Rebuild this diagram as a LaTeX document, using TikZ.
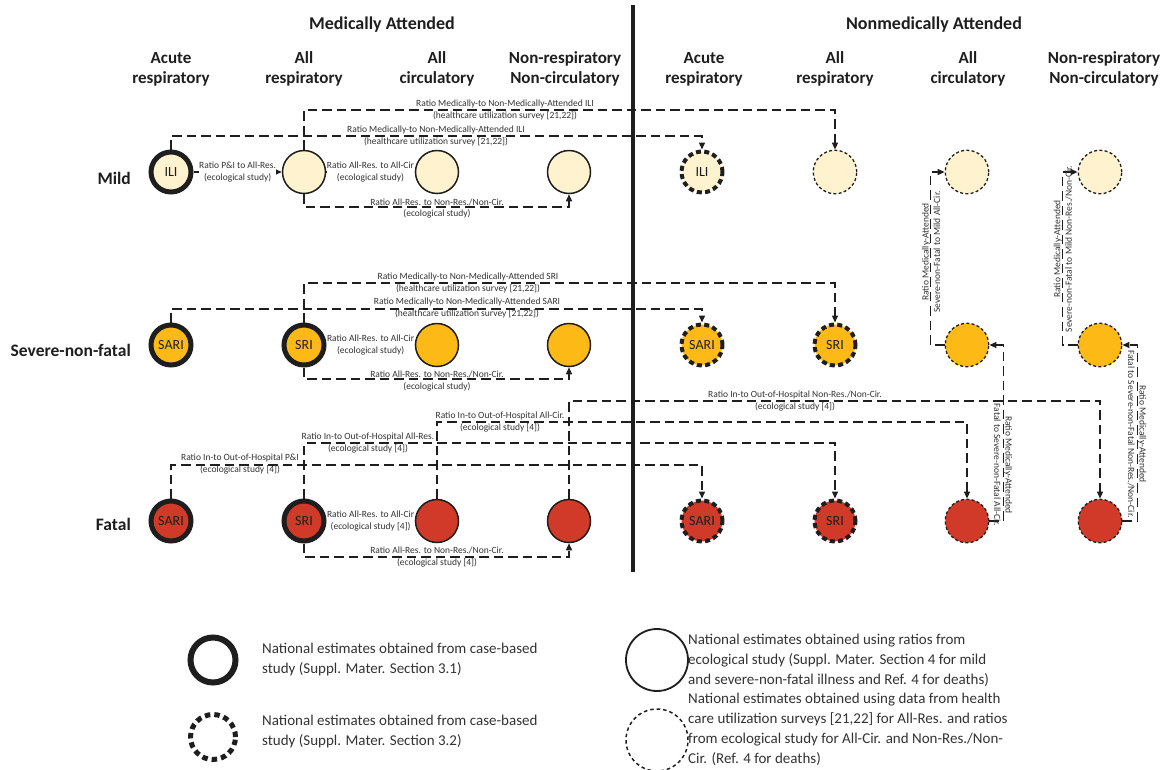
\documentclass[tikz,border=0pt]{standalone}
\usepackage{fontspec}
\setmainfont{Carlito}
\usetikzlibrary{arrows.meta}
\definecolor{mildc}{HTML}{FEF3CE}
\definecolor{sevc}{HTML}{FDBA16}
\definecolor{fatc}{HTML}{D13A28}
\definecolor{ink}{HTML}{1E1E1E}
\definecolor{labink}{HTML}{333333}
\begin{document}
\begin{tikzpicture}[x=1pt,y=-1pt,
  every node/.style={inner sep=0pt},
  ttl/.style={font=\fontsize{18}{20}\bfseries\selectfont, text=ink},
  hdr/.style={font=\fontsize{17}{20}\bfseries\selectfont, align=center, text=ink},
  rowlab/.style={font=\fontsize{17.5}{20}\bfseries\selectfont, anchor=east, text=ink},
  circtxt/.style={font=\fontsize{14}{16}\selectfont, text=ink},
  cA/.style={circle, draw=ink, line width=5pt, minimum size=40pt, circtxt},
  cB/.style={circle, draw=ink, line width=1.5pt, minimum size=43pt},
  cC/.style={circle, draw=ink, line width=4pt, minimum size=41pt, dash pattern=on 5pt off 3.3pt, circtxt},
  cD/.style={circle, draw=ink, line width=1.3pt, minimum size=43.5pt, dash pattern=on 3pt off 2.3pt},
  mf/.style={fill=mildc}, sf/.style={fill=sevc}, ff/.style={fill=fatc},
  conn/.style={draw=ink, line width=1.4pt, dash pattern=on 9.5pt off 5pt, -{Triangle[length=7pt,width=6pt]}},
  lab/.style={font=\fontsize{9.5}{11.5}\selectfont, align=center, text=labink},
  labw/.style={lab, fill=white},
  legtxt/.style={font=\fontsize{15}{20}\selectfont, align=left, anchor=west, text=labink}
]
\useasboundingbox (0,0) rectangle (1170,769);

% titles and headers
\node[ttl] (tma) at (382,25) {Medically Attended};
\node[ttl] (tnm) at (934,25) {Nonmedically Attended};
\node[hdr] (h1) at (171,69) {Acute\\respiratory};
\node[hdr] (h2) at (304,69) {All\\respiratory};
\node[hdr] (h3) at (437,69) {All\\circulatory};
\node[hdr] (h4) at (565,69) {Non-respiratory\\Non-circulatory};
\node[hdr] (h5) at (704,69) {Acute\\respiratory};
\node[hdr] (h6) at (835,69) {All\\respiratory};
\node[hdr] (h7) at (968,69) {All\\circulatory};
\node[hdr] (h8) at (1104,69) {Non-respiratory\\Non-circulatory};

\node[rowlab] (rl1) at (131,178) {Mild};
\node[rowlab] (rl2) at (131,350) {Severe-non-fatal};
\node[rowlab] (rl3) at (131,524) {Fatal};

% circles: mild
\node[cA,mf] (m1) at (171,172) {ILI};
\node[cB,mf] (m2) at (304,172) {};
\node[cB,mf] (m3) at (437,172) {};
\node[cB,mf] (m4) at (569,172) {};
\node[cC,mf] (n1) at (702,172) {ILI};
\node[cD,mf] (n2) at (835,172) {};
\node[cD,mf] (n3) at (967,172) {};
\node[cD,mf] (n4) at (1100,172) {};
% severe
\node[cA,sf] (s1) at (171,345) {SARI};
\node[cA,sf] (s2) at (304,345) {SRI};
\node[cB,sf] (s3) at (437,345) {};
\node[cB,sf] (s4) at (569,345) {};
\node[cC,sf] (t1) at (702,345) {SARI};
\node[cC,sf] (t2) at (835,345) {SRI};
\node[cD,sf] (t3) at (967,345) {};
\node[cD,sf] (t4) at (1100,345) {};
% fatal
\node[cA,ff] (f1) at (171,521) {SARI};
\node[cA,ff] (f2) at (304,521) {SRI};
\node[cB,ff] (f3) at (437,521) {};
\node[cB,ff] (f4) at (569,521) {};
\node[cC,ff] (g1) at (702,521) {SARI};
\node[cC,ff] (g2) at (835,521) {SRI};
\node[cD,ff] (g3) at (967,521) {};
\node[cD,ff] (g4) at (1100,521) {};

% mild connectors
\draw[conn] (m1) -- node[labw] (lm1) {Ratio P\&I to All-Res.\\(ecological study)} (m2);
\draw[conn] (m2) -- node[labw] (lm2) {Ratio All-Res. to All-Cir\\(ecological study)} (m3);
\draw[conn] (m2.south) -- ++(0,12.75) -| (m4.south);
\node[lab] (lm3) at (437,208.5) {Ratio All-Res. to Non-Res./Non-Cir.\\(ecological study)};
\draw[conn] (m2.north) -- ++(0,-39.75) -| (n2.north);
\node[lab] (lm4) at (505,110) {Ratio Medically-to Non-Medically-Attended ILI\\(healthcare utilization survey [21,22])};
\draw[conn] (m1.north) -- ++(0,-13.5) -| (n1.north);
\node[lab] (lm5) at (436,136) {Ratio Medically-to Non-Medically-Attended ILI\\(healthcare utilization survey [21,22])};

% severe connectors
\draw[conn] (s2.north) -- ++(0,-39.5) -| (t2.north);
\node[lab] (ls1) at (468,283) {Ratio Medically-to Non-Medically-Attended SRI\\(healthcare utilization survey [21,22])};
\draw[conn] (s1.north) -- ++(0,-13.5) -| (t1.north);
\node[lab] (ls2) at (467,308) {Ratio Medically-to Non-Medically-Attended SARI\\(healthcare utilization survey [21,22])};
\draw[conn] (s2) -- node[labw] (ls3) {Ratio All-Res. to All-Cir\\(ecological study)} (s3);
\draw[conn] (s2.south) -- ++(0,11.5) -| (s4.south);
\node[lab] (ls4) at (437,381) {Ratio All-Res. to Non-Res./Non-Cir.\\(ecological study)};

% fatal connectors
\draw[conn] (f1.north) -- ++(0,-33.5) -| (g1.north);
\node[lab] (lf1) at (240,464) {Ratio In-to Out-of-Hospital P\&I\\(ecological study [4])};
\draw[conn] (f2.north) -- ++(0,-55.5) -| (g2.north);
\node[lab] (lf2) at (368,443) {Ratio In-to Out-of-Hospital All-Res.\\(ecological study [4])};
\draw[conn] (f3.north) -- ++(0,-76.75) -| (g3.north);
\node[lab] (lf3) at (500,422) {Ratio In-to Out-of-Hospital All-Cir.\\(ecological study [4])};
\draw[conn] (f4.north) -- ++(0,-97.75) -| (g4.north);
\node[lab] (lf4) at (795,401) {Ratio In-to Out-of-Hospital Non-Res./Non-Cir.\\(ecological study [4])};
\draw[conn] (f2) -- node[labw] (lf5) {Ratio All-Res. to All-Cir\\(ecological study [4])} (f3);
\draw[conn] (f2.south) -- ++(0,13.5) -| (f4.south);
\node[lab] (lf6) at (437,557) {Ratio All-Res. to Non-Res./Non-Cir.\\(ecological study [4])};

% right-hand vertical connectors
\draw[conn] (t3.west) -- ++(-14,0) |- (n3.west);
\node[lab, rotate=90] (lr1) at (931,252) {Ratio Medically-Attended\\Severe-non-Fatal to Mild All-Cir.};
\draw[conn] (t4.west) -- ++(-15,0) |- (n4.west);
\node[lab, rotate=90] (lr2) at (1063,249) {Ratio Medically-Attended\\Severe-non-Fatal to Mild Non-Res./Non-Cir.};
\draw[conn] (g3.east) -- ++(14,0) |- (t3.east);
\node[lab, rotate=-90] (lr3) at (1003,465) {Ratio Medically-Attended\\Fatal to Severe-non-Fatal All-Cir.};
\draw[conn] (g4.east) -- ++(15,0) |- (t4.east);
\node[lab, rotate=-90] (lr4) at (1137,434) {Ratio Medically-Attended\\Fatal to Severe-non-Fatal Non-Res./Non-Cir.};

% divider
\draw[line width=4.5pt, ink] (633,5) -- (633,572);

% legend
\node[circle, draw=ink, line width=6pt, minimum size=45pt] (lg1) at (213,660) {};
\node[circle, draw=ink, line width=5pt, minimum size=45pt, dash pattern=on 5.5pt off 4pt] (lg2) at (213,737) {};
\node[circle, draw=ink, line width=1.8pt, minimum size=62pt] (lg3) at (657,660) {};
\node[circle, draw=ink, line width=1.5pt, minimum size=62pt, dash pattern=on 3.5pt off 3pt] (lg4) at (657,740) {};
\node[legtxt] (lt1) at (262,659) {National estimates obtained from case-based\\study (Suppl. Mater. Section 3.1)};
\node[legtxt] (lt2) at (262,731) {National estimates obtained from case-based\\study (Suppl. Mater. Section 3.2)};
\node[legtxt] (lt3) at (688,660) {National estimates obtained using ratios from\\ecological study (Suppl. Mater. Section 4 for mild\\and severe-non-fatal illness and Ref. 4 for deaths)};
\node[legtxt] (lt4) at (688,729) {National estimates obtained using data from health\\care utilization surveys [21,22] for All-Res. and ratios\\from ecological study for All-Cir. and Non-Res./Non-\\Cir. (Ref. 4 for deaths)};
\end{tikzpicture}
\end{document}
